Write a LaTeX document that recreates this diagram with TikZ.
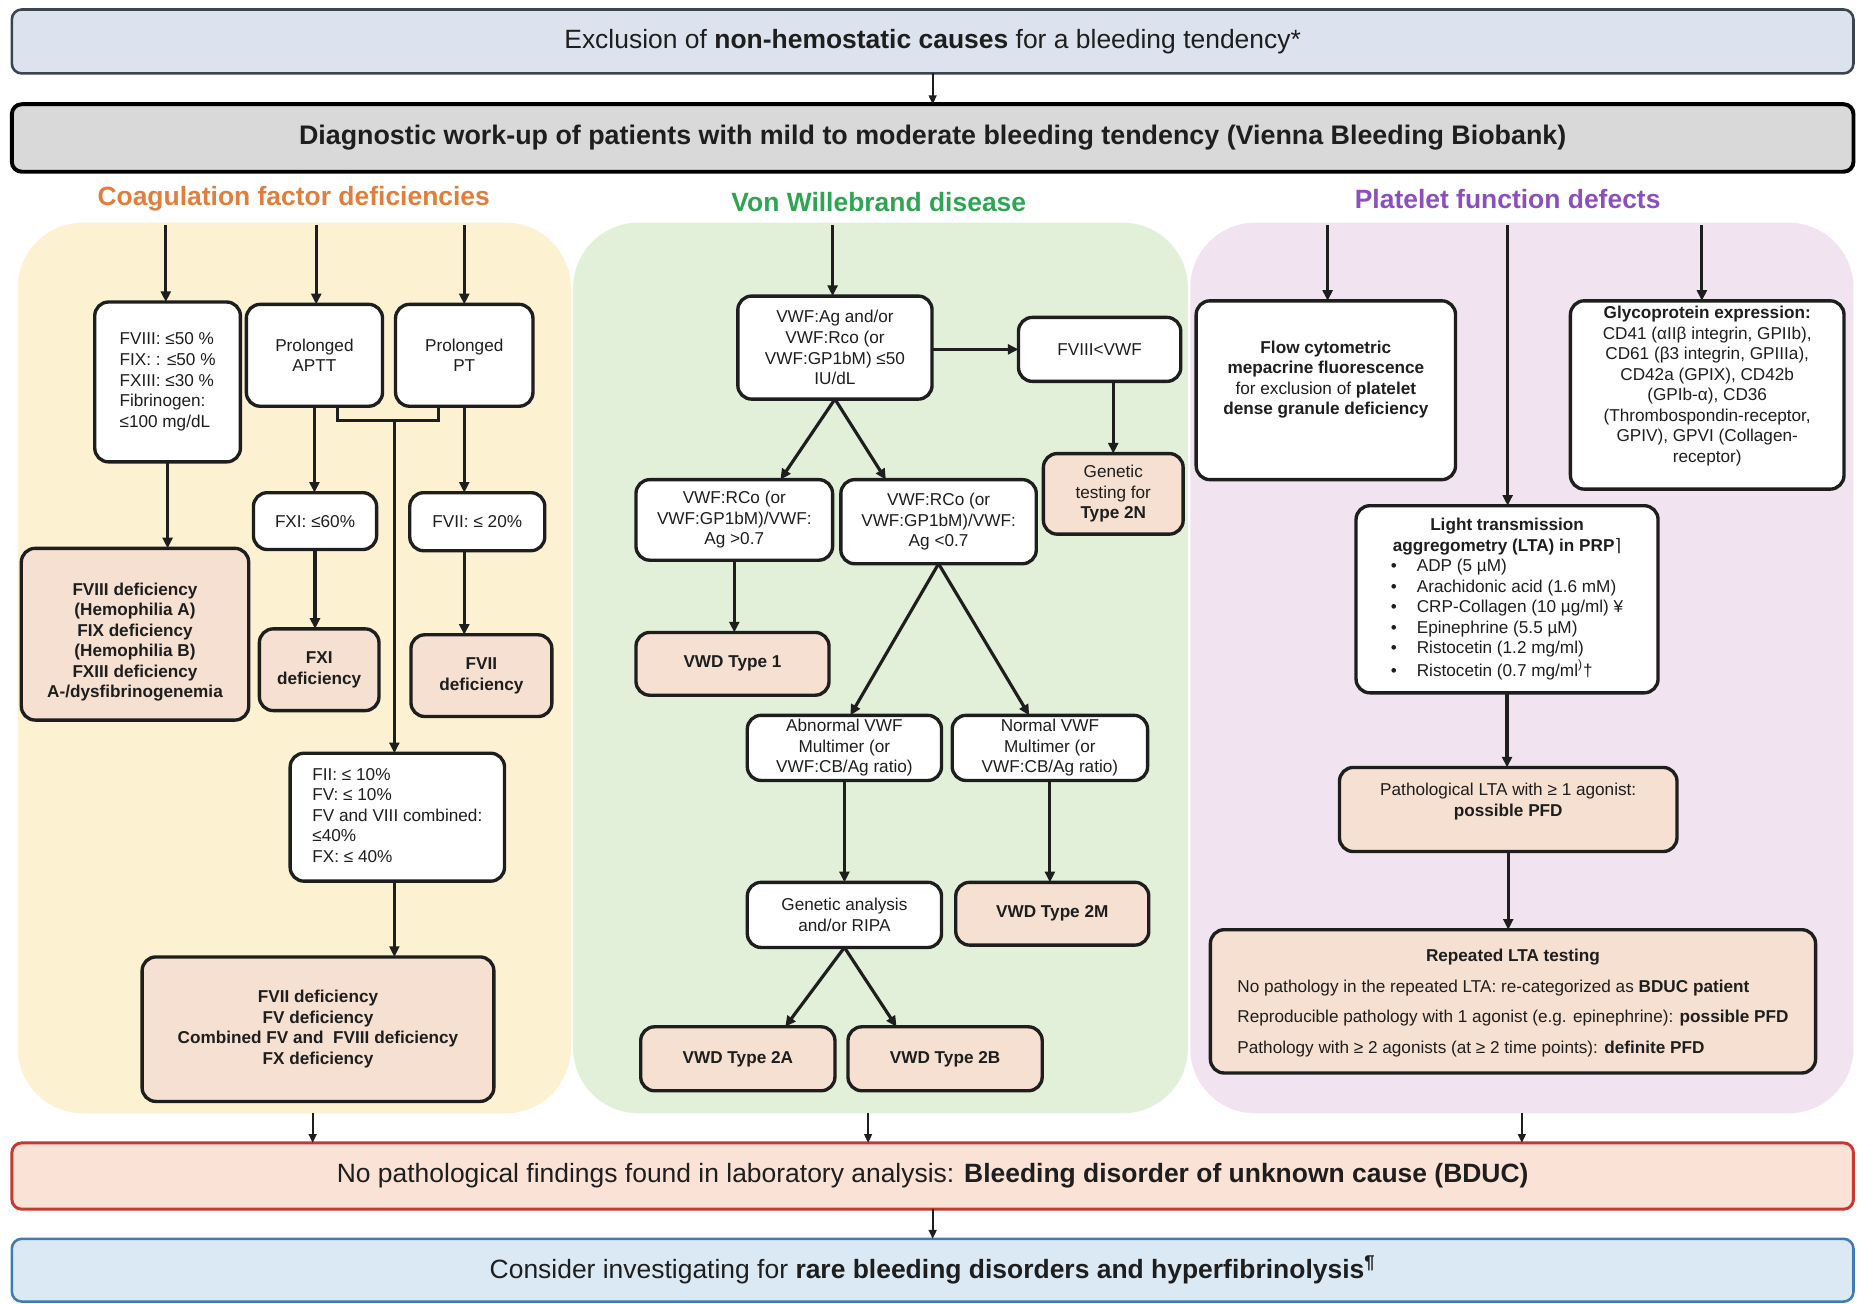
\documentclass[tikz,border=0pt]{standalone}
\usepackage{fontspec}
\setmainfont{Liberation Sans}
\newfontfamily\djv{DejaVu Sans}
\usetikzlibrary{arrows.meta}

\definecolor{ink}{HTML}{1E1E1E}
\definecolor{topfill}{HTML}{DCE3EE}
\definecolor{topline}{HTML}{3C4450}
\definecolor{workfill}{HTML}{D9D9D9}
\definecolor{coagbg}{HTML}{FCF2D2}
\definecolor{vwdbg}{HTML}{E2EFD9}
\definecolor{pfdbg}{HTML}{F1E3F0}
\definecolor{result}{HTML}{F6E0D1}
\definecolor{coagtx}{HTML}{E07E3C}
\definecolor{vwdtx}{HTML}{2EA552}
\definecolor{pfdtx}{HTML}{8B50BE}
\definecolor{bducfill}{HTML}{FAE2D6}
\definecolor{bducline}{HTML}{C43A31}
\definecolor{rarefill}{HTML}{DBE9F5}
\definecolor{rareline}{HTML}{3F7CB4}

\newcommand\boxfont{\fontsize{8.7}{10.4}\selectfont}
\newcommand\bigfont{\fontsize{13.4}{16}\selectfont}
\newcommand\workfont{\fontsize{13.6}{16}\selectfont\bfseries}
\newcommand\headfont{\fontsize{13.4}{16}\selectfont\bfseries}
\newcommand\lb{\makebox[13.2pt][l]{\textbullet}}

\tikzset{
  box/.style={draw=ink, line width=1.7pt, rounded corners=7pt, fill=white,
    inner sep=0pt, outer sep=0pt},
  res/.style={box, fill=result},
  topbox/.style={draw=topline, line width=1.3pt, rounded corners=5pt, fill=topfill,
    inner sep=0pt, outer sep=0pt},
  workbox/.style={draw=black, line width=2pt, rounded corners=5pt, fill=workfill,
    inner sep=0pt, outer sep=0pt},
  bducbox/.style={draw=bducline, line width=1.5pt, rounded corners=5pt, fill=bducfill,
    inner sep=0pt, outer sep=0pt},
  rarebox/.style={draw=rareline, line width=1.3pt, rounded corners=5pt, fill=rarefill,
    inner sep=0pt, outer sep=0pt},
  area/.style={rounded corners=33pt, inner sep=0pt, outer sep=0pt},
  txt/.style={font=\boxfont, text=ink, align=center, inner sep=0pt},
  heading/.style={font=\headfont, inner sep=0pt},
  ln/.style={draw=ink, line width=1.6pt},
  arr/.style={ln, -{Triangle[length=5.4pt,width=5pt]}},
  thinarr/.style={draw=ink, line width=0.9pt, -{Triangle[length=4.5pt,width=4pt]}},
}

% box from corner (#4,#5) to corner (#6,#7), with its text in a node #3-t
\newcommand\bx[8][]{%
  \node[#2, minimum width={(#6-#4)*0.6pt}, minimum height={(#7-#5)*0.6pt}]
    (#3) at ({(#4+#6)/2},{(#5+#7)/2}) {};
  \node[txt, #1] (#3-t) at (#3.center) {#8};}

% coloured background area of one branch
\newcommand\zone[6]{%
  \node[area, #1, minimum width={(#5-#3)*0.6pt}, minimum height={(#6-#4)*0.6pt}]
    (#2) at ({(#3+#5)/2},{(#4+#6)/2}) {};}

\begin{document}
\begin{tikzpicture}[x=0.6pt, y=-0.6pt]
\useasboundingbox (0,0) rectangle (1568,1101);
\fill[white] (0,0) rectangle (1568,1101);

% ---------- branch areas ----------
\zone{fill=coagbg}{pcoag}{15}{188}{482}{940}
\zone{fill=vwdbg}{pvwd}{484}{188}{1003}{940}
\zone{fill=pfdbg}{ppfd}{1005}{188}{1565}{940}

% ---------- top of the work-up ----------
\bx[font=\bigfont]{topbox}{excl}{10}{8}{1565}{62}
  {Exclusion of \textbf{non-hemostatic causes} for a bleeding tendency*}
\bx[font=\workfont]{workbox}{work}{10}{88}{1565}{145}
  {Diagnostic work-up of patients with mild to moderate bleeding tendency (Vienna Bleeding Biobank)}
\draw[thinarr] (excl.south) -- (work.north);

\node[heading, text=coagtx] (hcoag) at (248,168) {Coagulation factor deficiencies};
\node[heading, text=vwdtx] (hvwd) at (742,171) {Von Willebrand disease};
\node[heading, text=pfdtx] (hpfd) at (1273,168) {Platelet function defects};

% ---------- coagulation factor deficiencies ----------
\coordinate (k1) at (140,190);
\coordinate (k2) at (267,190);
\coordinate (k3) at (392,190);

\bx{box}{thr}{80}{255}{203}{390}
  {\begin{tabular}{@{}l@{}}FVIII: ≤50 \%\\FIX: : ≤50 \%\\FXIII: ≤30 \%\\Fibrinogen:\\≤100 mg/dL\end{tabular}}
\bx{box}{aptt}{208}{257}{323}{343}{Prolonged\\APTT}
\bx{box}{ptbox}{334}{257}{450}{343}{Prolonged\\PT}
\bx{box}{fxi}{214}{416}{318}{464}{FXI: ≤60\%}
\bx{box}{fvii}{346}{416}{460}{465}{FVII: ≤ 20\%}
\bx[font=\boxfont\bfseries, yshift=-4pt]{res}{hemo}{18}{463}{210}{608}
  {FVIII deficiency\\(Hemophilia A)\\FIX deficiency\\(Hemophilia B)\\FXIII deficiency\\A-/dysfibrinogenemia}
\bx[font=\boxfont\bfseries]{res}{fxid}{219}{531}{320}{600}{FXI\\deficiency}
\bx[font=\boxfont\bfseries]{res}{fviid}{347}{536}{466}{605}{FVII\\deficiency}
\bx{box}{fii}{245}{636}{426}{744}
  {\begin{tabular}{@{}l@{}}FII: ≤ 10\%\\FV: ≤ 10\%\\FV and VIII combined:\\≤40\%\\FX: ≤ 40\%\end{tabular}}
\bx[font=\boxfont\bfseries]{res}{cdef}{120}{808}{417}{930}
  {FVII deficiency\\FV deficiency\\Combined FV and\ \ FVIII deficiency\\FX deficiency}

\draw[arr] (k1) -- (k1 |- thr.north);
\draw[arr] (k2) -- (k2 |- aptt.north);
\draw[arr] (k3) -- (k3 |- ptbox.north);
\draw[arr] (thr.south) -- (thr.south |- hemo.north);
\draw[arr] (aptt.south) -- (aptt.south |- fxi.north);
\draw[arr] (ptbox.south) -- (ptbox.south |- fvii.north);
\draw[arr] (fxi.south) -- (fxi.south |- fxid.north);
\draw[arr] (fvii.south -| ptbox.south) -- (ptbox.south |- fviid.north);
\coordinate (jn) at (333,355);
\draw[ln] ([xshift=11.7pt]aptt.south) |- (jn) -| ([xshift=-13.2pt]ptbox.south);
\draw[arr] (jn) -- (jn |- fii.north);
\draw[arr] (fii.south -| jn) -- (jn |- cdef.north);

% ---------- von Willebrand disease ----------
\coordinate (kv) at (703,190);
\bx{box}{vwf}{623}{250}{787}{337}
  {VWF:Ag and/or\\VWF:Rco (or\\VWF:GP1bM) ≤50\\IU/dL}
\bx{box}{f8}{860}{268}{997}{322}{FVIII<VWF}
\bx{res}{gen}{881}{383}{999}{451}{Genetic\\testing for\\\textbf{Type 2N}}
\bx{box}{hi}{537}{405}{703}{473}{VWF:RCo (or\\VWF:GP1bM)/VWF:\\Ag >0.7}
\bx{box}{lo}{710}{405}{875}{476}{VWF:RCo (or\\VWF:GP1bM)/VWF:\\Ag <0.7}
\bx[font=\boxfont\bfseries]{res}{t1}{537}{534}{700}{587}{VWD Type 1}
\bx{box}{ab}{631}{604}{795}{659}{Abnormal VWF\\Multimer (or\\VWF:CB/Ag ratio)}
\bx{box}{nm}{804}{604}{969}{659}{Normal VWF\\Multimer (or\\VWF:CB/Ag ratio)}
\bx{box}{ga}{631}{745}{795}{800}{Genetic analysis\\and/or RIPA}
\bx[font=\boxfont\bfseries]{res}{t2m}{807}{745}{970}{798}{VWD Type 2M}
\bx[font=\boxfont\bfseries]{res}{t2a}{541}{867}{705}{921}{VWD Type 2A}
\bx[font=\boxfont\bfseries]{res}{t2b}{716}{867}{880}{921}{VWD Type 2B}

\draw[arr] (kv) -- (kv |- vwf.north);
\draw[arr] (vwf.east |- f8.west) -- (f8.west);
\draw[arr] (gen.north |- f8.south) -- (gen.north);
\draw[arr] (vwf.south) -- ([xshift=23.4pt]hi.north);
\draw[arr] (vwf.south) -- ([xshift=-26.7pt]lo.north);
\draw[arr] (hi.south) -- (hi.south |- t1.north);
\draw[arr] (lo.south) -- ([xshift=3pt]ab.north);
\draw[arr] (lo.south) -- ([xshift=-10.5pt]nm.north);
\draw[arr] (ab.south) -- (ga.north);
\draw[arr] (nm.south) -- (nm.south |- t2m.north);
\draw[arr] (ga.south) -- ([xshift=24pt]t2a.north);
\draw[arr] (ga.south) -- ([xshift=-24.6pt]t2b.north);

% ---------- platelet function defects ----------
\coordinate (kp1) at (1121,190);
\coordinate (kp2) at (1273,190);
\coordinate (kp3) at (1437,190);
\bx[yshift=5.4pt]{box}{flow}{1010}{254}{1229}{405}
  {\textbf{Flow cytometric}\\\textbf{mepacrine fluorescence}\\for exclusion of \textbf{platelet}\\\textbf{dense granule deficiency}}
\bx[yshift=4.5pt]{box}{glyco}{1326}{254}{1557}{413}
  {\textbf{Glycoprotein expression:}\\CD41 (αIIβ integrin, GPIIb),\\CD61 (β3 integrin, GPIIIa),\\CD42a (GPIX), CD42b\\(GPIb-α), CD36\\(Thrombospondin-receptor,\\GPIV), GPVI (Collagen-\\receptor)}
\bx{box}{lta}{1145}{427}{1400}{585}
  {\begin{tabular}{@{}l@{}}
   \multicolumn{1}{@{}c@{}}{\textbf{Light transmission}}\\
   \multicolumn{1}{@{}c@{}}{\textbf{aggregometry (LTA) in PRP}{\djv ⌉}}\\
   \lb ADP (5 µM)\\
   \lb Arachidonic acid (1.6 mM)\\
   \lb CRP-Collagen (10 µg/ml) ¥\\
   \lb Epinephrine (5.5 µM)\\
   \lb Ristocetin (1.2 mg/ml)\\
   \lb Ristocetin (0.7 mg/ml\textsuperscript{)}†
   \end{tabular}}
\bx[yshift=3.9pt]{res}{plta}{1131}{648}{1416}{719}
  {Pathological LTA with ≥ 1 agonist:\\\textbf{possible PFD}}
\bx{res}{rep}{1022}{785}{1533}{906}
  {\renewcommand\arraystretch{1.5}\begin{tabular}{@{}l@{}}
   \multicolumn{1}{@{}c@{}}{\textbf{Repeated LTA testing}}\\
   No pathology in the repeated LTA: re-categorized as \textbf{BDUC patient}\\
   Reproducible pathology with 1 agonist (e.g. epinephrine): \textbf{possible PFD}\\
   Pathology with ≥ 2 agonists (at ≥ 2 time points): \textbf{definite PFD}
   \end{tabular}}

\draw[arr] (kp1) -- (kp1 |- flow.north);
\draw[arr] (kp2) -- (kp2 |- lta.north);
\draw[arr] (kp3) -- (kp3 |- glyco.north);
\draw[arr] (lta.south) -- (lta.south |- plta.north);
\draw[arr] (plta.south) -- (plta.south |- rep.north);

% ---------- common outcome ----------
\bx[font=\bigfont]{bducbox}{bduc}{10}{965}{1565}{1021}
  {No pathological findings found in laboratory analysis: \textbf{Bleeding disorder of unknown cause (BDUC)}}
\bx[font=\bigfont]{rarebox}{rare}{10}{1046}{1565}{1099}
  {Consider investigating for \textbf{rare bleeding disorders and hyperfibrinolysis\textsuperscript{¶}}}

\coordinate (o1) at ([xshift=9.3pt]pcoag.south);
\coordinate (o2) at ([xshift=-6.3pt]pvwd.south);
\coordinate (o3) at (ppfd.south);
\draw[thinarr] (o1) -- (o1 |- bduc.north);
\draw[thinarr] (o2) -- (o2 |- bduc.north);
\draw[thinarr] (o3) -- (o3 |- bduc.north);
\draw[thinarr] (bduc.south) -- (rare.north);
\end{tikzpicture}
\end{document}
